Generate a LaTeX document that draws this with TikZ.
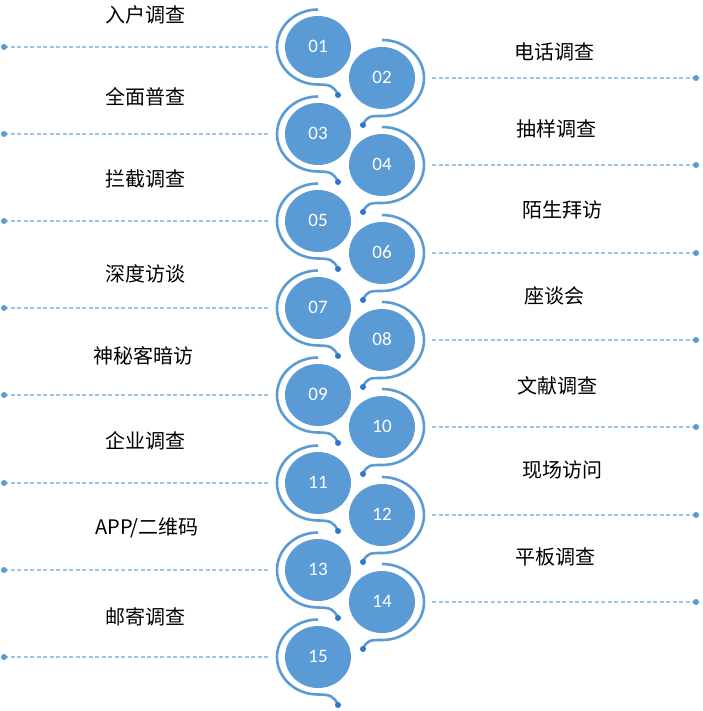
\documentclass[tikz,border=0pt]{standalone}
\usepackage{fontspec}
\setmainfont{Carlito}
\newfontfamily\cjk{Noto Sans CJK SC}
\usetikzlibrary{shapes.geometric}

\definecolor{stageblue}{HTML}{5B9BD5}
\definecolor{dotblue}{HTML}{2E75CF}
\definecolor{guideblue}{HTML}{9DC3E6}

\begin{document}
\begin{tikzpicture}[x=1pt,y=-1pt,
    stage/.style={ellipse,fill=stageblue,minimum width=66pt,minimum height=62pt,
      inner sep=0pt,text=white,font=\fontsize{19}{19}\selectfont},
    ring/.style={stageblue,line width=2.6pt},
    lguide/.style={guideblue,line width=1.3pt,dash pattern=on 4pt off 2.5pt,shorten >=17pt},
    rguide/.style={guideblue,line width=1.3pt,dash pattern=on 4pt off 2.5pt,shorten <=17pt},
    item/.style={font=\cjk\fontsize{20}{24}\selectfont},
    lring/.pic={
      \draw[ring] (0,-37.5) arc[start angle=270,end angle=90,x radius=41,y radius=37.5]
        .. controls +(12,0) and +(-4,-9) .. (20,48);
      \fill[dotblue] (20,48) circle[radius=3pt];},
    rring/.pic={
      \draw[ring] (0,-38) arc[start angle=270,end angle=450,x radius=42,y radius=38]
        .. controls +(-12,0) and +(4,-9) .. (-19,47);
      \fill[dotblue] (-19,47) circle[radius=3pt];}]
  \useasboundingbox (0,0) rectangle (702,711);

  % left column
  \node[stage] (c01) at (318,47)  {\raisebox{2pt}{01}};
  \node[stage] (c03) at (318,134) {\raisebox{2pt}{03}};
  \node[stage] (c05) at (318,221) {\raisebox{2pt}{05}};
  \node[stage] (c07) at (318,308) {\raisebox{2pt}{07}};
  \node[stage] (c09) at (318,395) {\raisebox{2pt}{09}};
  \node[stage] (c11) at (318,483) {\raisebox{2pt}{11}};
  \node[stage] (c13) at (318,570) {\raisebox{2pt}{13}};
  \node[stage] (c15) at (318,657) {\raisebox{2pt}{15}};
  % right column
  \node[stage] (c02) at (382,78)  {\raisebox{2pt}{02}};
  \node[stage] (c04) at (382,165) {\raisebox{2pt}{04}};
  \node[stage] (c06) at (382,253) {\raisebox{2pt}{06}};
  \node[stage] (c08) at (382,340) {\raisebox{2pt}{08}};
  \node[stage] (c10) at (382,427) {\raisebox{2pt}{10}};
  \node[stage] (c12) at (382,515) {\raisebox{2pt}{12}};
  \node[stage] (c14) at (382,602) {\raisebox{2pt}{14}};

  \pic at (c01) {lring};
  \pic at (c03) {lring};
  \pic at (c05) {lring};
  \pic at (c07) {lring};
  \pic at (c09) {lring};
  \pic at (c11) {lring};
  \pic at (c13) {lring};
  \pic at (c15) {lring};
  \pic at (c02) {rring};
  \pic at (c04) {rring};
  \pic at (c06) {rring};
  \pic at (c08) {rring};
  \pic at (c10) {rring};
  \pic at (c12) {rring};
  \pic at (c14) {rring};

  % guide lines
  \coordinate (d01) at (4,47);
  \coordinate (d03) at (4,134);
  \coordinate (d05) at (4,221);
  \coordinate (d07) at (4,308);
  \coordinate (d09) at (4,395);
  \coordinate (d11) at (4,483);
  \coordinate (d13) at (4,570);
  \coordinate (d15) at (4,657);
  \coordinate (d02) at (696,78);
  \coordinate (d04) at (696,165);
  \coordinate (d06) at (696,253);
  \coordinate (d08) at (696,340);
  \coordinate (d10) at (696,427);
  \coordinate (d12) at (696,515);
  \coordinate (d14) at (696,602);

  \draw[lguide] (d01) -- (c01);
  \draw[lguide] (d03) -- (c03);
  \draw[lguide] (d05) -- (c05);
  \draw[lguide] (d07) -- (c07);
  \draw[lguide] (d09) -- (c09);
  \draw[lguide] (d11) -- (c11);
  \draw[lguide] (d13) -- (c13);
  \draw[lguide] (d15) -- (c15);
  \draw[rguide] (c02) -- (d02);
  \draw[rguide] (c04) -- (d04);
  \draw[rguide] (c06) -- (d06);
  \draw[rguide] (c08) -- (d08);
  \draw[rguide] (c10) -- (d10);
  \draw[rguide] (c12) -- (d12);
  \draw[rguide] (c14) -- (d14);

  \fill[stageblue] (d01) circle[radius=3pt] (d03) circle[radius=3pt]
    (d05) circle[radius=3pt] (d07) circle[radius=3pt] (d09) circle[radius=3pt]
    (d11) circle[radius=3pt] (d13) circle[radius=3pt] (d15) circle[radius=3pt];
  \fill[stageblue] (d02) circle[radius=3pt] (d04) circle[radius=3pt]
    (d06) circle[radius=3pt] (d08) circle[radius=3pt] (d10) circle[radius=3pt]
    (d12) circle[radius=3pt] (d14) circle[radius=3pt];

  % labels
  \node[item] (t01) at (145,15)  {入户调查};
  \node[item] (t03) at (145,97)  {全面普查};
  \node[item] (t05) at (145,179) {拦截调查};
  \node[item] (t07) at (145,274) {深度访谈};
  \node[item] (t09) at (143,356) {神秘客暗访};
  \node[item] (t11) at (145,441) {企业调查};
  \node[item] (t13) at (147,528) {APP/二维码};
  \node[item] (t15) at (145,617) {邮寄调查};
  \node[item] (t02) at (554,52)  {电话调查};
  \node[item] (t04) at (556,129) {抽样调查};
  \node[item] (t06) at (562,210) {陌生拜访};
  \node[item] (t08) at (554,296) {座谈会};
  \node[item] (t10) at (557,386) {文献调查};
  \node[item] (t12) at (562,470) {现场访问};
  \node[item] (t14) at (555,557) {平板调查};
\end{tikzpicture}
\end{document}
